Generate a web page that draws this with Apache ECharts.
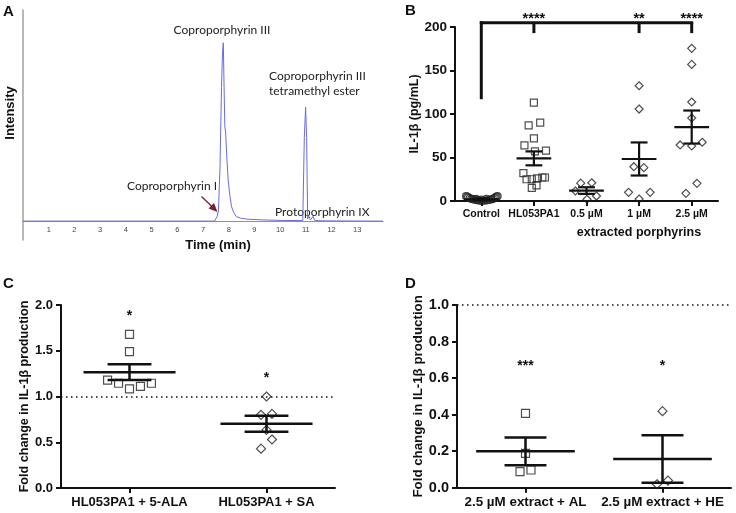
<!DOCTYPE html>
<html><head><meta charset="utf-8">
<script src="https://cdn.jsdelivr.net/npm/echarts@6/dist/echarts.min.js"></script>
<style>html,body{margin:0;padding:0;background:#fff}#c{width:736px;height:513px}</style>
</head><body><div id="c"></div>
<script>
// ---------- Panel A data (chromatogram) ----------
const chromTime = [0, 7.45, 7.55, 7.6, 7.66, 7.72, 7.76, 7.79, 7.82, 7.85, 7.88, 7.93, 7.98, 8.05, 8.11, 8.2, 8.3, 8.5, 8.8, 9.3, 10.0, 10.88, 10.94, 10.99, 11.03, 11.07, 11.12, 11.18, 11.23, 11.28, 11.34, 11.5, 12.2, 14];
const chromInt  = [0.3, 0.3, 3, 6, 30, 75, 95, 100, 75, 53, 50, 35, 23, 14, 8.4, 5, 2.8, 1.8, 1.3, 1.0, 0.7, 0.6, 47, 64, 47, 1.5, 3, 1, 1.2, 3, 0.8, 0.5, 0.4, 0.3];
const aTicks = [1,2,3,4,5,6,7,8,9,10,11,12,13];

// ---------- Panel B data ----------
const bCategories = ['Control', 'HL053PA1', '0.5 µM', '1 µM', '2.5 µM'];
const ctrlVals = [5.5, 5, 4.2, 3.2, 2.4, 1.8, 1.2, 0.8, 0.5, 0.3, 0.3, 0.5, 0.8, 1.2, 1.8, 2.4, 3.2, 4.2, 5, 5.5, 1.5, 2.5, 2.5];
const ctrlJit  = [-0.29, -0.27, -0.25, -0.22, -0.19, -0.15, -0.11, -0.07, -0.03, 0.0, 0.03, 0.07, 0.11, 0.15, 0.19, 0.22, 0.25, 0.27, 0.29, 0.31, 0, -0.1, 0.1];
const hlVals = [113, 87, 90, 72, 64, 57, 58, 32, 25, 25, 26, 27, 27, 18, 15];
const hlJit  = [0, -0.1, 0.12, 0, -0.18, 0.02, 0.23, -0.2, -0.14, -0.04, 0.06, 0.16, 0.21, 0.05, -0.04];
const p05Vals = [20.5, 21, 11.5, 2, 5.7];
const p05Jit  = [-0.11, 0.1, -0.21, 0.01, 0.19];
const p1Vals = [132.5, 105.7, 39.4, 38.3, 10, 2.3, 10];
const p1Jit  = [0, 0, -0.1, 0.09, -0.2, 0, 0.21];
const p25Vals = [175.5, 157, 113.8, 95.4, 64.4, 63.2, 67.5, 20.3, 8.8];
const p25Jit  = [0, 0, 0, 0, -0.22, 0, 0.2, 0.1, -0.11];
const bMeans = [2, 49, 12, 48.3, 85];
const bSems  = [0.6, 8, 3.8, 19, 19];
const bStars = ['', '****', '', '**', '****'];
const bStarY = [209, 209, 209, 209, 209];
const bracketBase = 117, bracketTop = 205, bracketDrop = 193;
const bracketTargets = [1, 3, 4];

// ---------- Panel C data ----------
const cCategories = ['HL053PA1 + 5-ALA', 'HL053PA1 + SA'];
const alaVals = [1.68, 1.49, 1.18, 1.145, 1.083, 1.11, 1.145];
const alaJit  = [0, 0, -0.16, -0.08, 0, 0.08, 0.16];
const saVals = [1.0, 0.8, 0.81, 0.635, 0.53, 0.43];
const saJit  = [0, -0.04, 0.04, 0, 0.04, -0.04];
const cMeans = [1.266, 0.703];
const cSems  = [0.087, 0.087];
const cStars = ['*', '*'];
const cStarY = [1.88, 1.196];

// ---------- Panel D data ----------
const dCategories = ['2.5 µM extract + AL', '2.5 µM extract + HE'];
const alVals = [0.407, 0.188, 0.088, 0.097];
const alJit  = [0, 0, -0.04, 0.04];
const heVals = [0.419, 0.019, 0.039];
const heJit  = [0, -0.04, 0.04];
const dMeans = [0.199, 0.157];
const dSems  = [0.076, 0.13];
const dStars = ['***', '*'];
const dStarY = [0.665, 0.665];

// ---------- build ----------
const FONT = 'Liberation Sans, Arial, sans-serif';
const pts = (vals, jit, cat) => vals.map((v, i) => [cat + jit[i], v]);

function errRender(meanHalf, capHalf, lw) {
  return function (params, api) {
    const x = api.value(0), m = api.value(1), s = api.value(2);
    const unit = api.size([1, 0])[0];
    const c = api.coord([x, m]), u = api.coord([x, m + s]), l = api.coord([x, m - s]);
    const st = { stroke: '#111', lineWidth: lw, fill: null };
    return { type: 'group', children: [
      { type: 'line', shape: { x1: c[0] - meanHalf * unit, y1: c[1], x2: c[0] + meanHalf * unit, y2: c[1] }, style: st },
      { type: 'line', shape: { x1: u[0], y1: u[1], x2: l[0], y2: l[1] }, style: st },
      { type: 'line', shape: { x1: u[0] - capHalf * unit, y1: u[1], x2: u[0] + capHalf * unit, y2: u[1] }, style: st },
      { type: 'line', shape: { x1: l[0] - capHalf * unit, y1: l[1], x2: l[0] + capHalf * unit, y2: l[1] }, style: st }
    ]};
  };
}
function starRender(labels, size) {
  return function (params, api) {
    const p = api.coord([api.value(0), api.value(1)]);
    return { type: 'text', x: p[0], y: p[1], style: { text: labels[params.dataIndex], fill: '#111', font: 'bold ' + size + 'px ' + FONT, textAlign: 'center', textVerticalAlign: 'middle' } };
  };
}

const blackAxis = { show: true, onZero: false, lineStyle: { color: '#111', width: 2 } };
const blackTick = { show: true, length: 5, lineStyle: { color: '#111', width: 2 } };
const symStyle = { color: 'rgba(255,255,255,0)', borderColor: '#222', borderWidth: 1.2 };

const option = {
  animation: false,
  backgroundColor: '#fff',
  textStyle: { fontFamily: FONT },
  grid: [
    { left: 23, top: 10, width: 360, height: 230 },
    { left: 455, top: 27, width: 263, height: 174 },
    { left: 61, top: 305, width: 274, height: 183 },
    { left: 457, top: 305, width: 274, height: 182.7 }
  ],
  xAxis: [
    { gridIndex: 0, type: 'value', min: 0, max: 14, interval: 1, offset: -18.3,
      axisLine: { onZero: false, lineStyle: { color: '#8a8ad0', width: 1 } }, axisTick: { show: false }, splitLine: { show: false },
      axisLabel: { fontSize: 7.5, color: '#444', margin: 4, formatter: v => aTicks.indexOf(v) >= 0 ? String(v) : '' },
      name: 'Time (min)', nameLocation: 'middle', nameGap: 17,
      nameTextStyle: { fontWeight: 'bold', fontSize: 13, color: '#111', padding: [0, 0, 0, 30] } },
    { gridIndex: 1, type: 'category', data: bCategories, axisLine: blackAxis,
      axisTick: Object.assign({ alignWithLabel: true }, blackTick),
      axisLabel: { interval: 0, fontSize: 10.5, fontWeight: 'bold', color: '#111', margin: 8 },
      name: 'extracted porphyrins', nameLocation: 'middle', nameGap: 25,
      nameTextStyle: { fontWeight: 'bold', fontSize: 12.5, color: '#111', padding: [0, 0, 0, 105] } },
    { gridIndex: 1, type: 'value', min: -0.5, max: 4.5, show: false, axisLine: { onZero: false } },
    { gridIndex: 2, type: 'category', data: cCategories, axisLine: blackAxis,
      axisTick: Object.assign({ alignWithLabel: true }, blackTick),
      axisLabel: { interval: 0, fontSize: 13, fontWeight: 'bold', color: '#111', margin: 8 } },
    { gridIndex: 2, type: 'value', min: -0.5, max: 1.5, show: false, axisLine: { onZero: false } },
    { gridIndex: 3, type: 'category', data: dCategories, axisLine: blackAxis,
      axisTick: Object.assign({ alignWithLabel: true }, blackTick),
      axisLabel: { interval: 0, fontSize: 13.4, fontWeight: 'bold', color: '#111', margin: 8 } },
    { gridIndex: 3, type: 'value', min: -0.5, max: 1.5, show: false, axisLine: { onZero: false } }
  ],
  yAxis: [
    { gridIndex: 0, type: 'value', min: -10.25, max: 118.3, axisLine: { show: true, onZero: false, lineStyle: { color: '#a0a0a0', width: 1.5 } },
      axisTick: { show: false }, axisLabel: { show: false }, splitLine: { show: false },
      name: 'Intensity', nameLocation: 'middle', nameGap: 6,
      nameTextStyle: { fontWeight: 'bold', fontSize: 13, color: '#111', padding: [0, 0, 0, 24] } },
    { gridIndex: 1, type: 'value', min: 0, max: 200, interval: 50, axisLine: blackAxis, axisTick: blackTick, splitLine: { show: false },
      axisLabel: { fontSize: 13.5, fontWeight: 'bold', color: '#111', margin: 8 },
      name: 'IL-1β (pg/mL)', nameLocation: 'middle', nameGap: 34,
      nameTextStyle: { fontWeight: 'bold', fontSize: 12.5, color: '#111' } },
    { gridIndex: 2, type: 'value', min: 0, max: 2, interval: 0.5, axisLine: blackAxis, axisTick: blackTick, splitLine: { show: false },
      axisLabel: { fontSize: 13, fontWeight: 'bold', color: '#111', margin: 8, formatter: v => v.toFixed(1) },
      name: 'Fold change in IL-1β production', nameLocation: 'middle', nameGap: 28,
      nameTextStyle: { fontWeight: 'bold', fontSize: 12.6, color: '#111' } },
    { gridIndex: 3, type: 'value', min: 0, max: 1, interval: 0.2, axisLine: blackAxis, axisTick: blackTick, splitLine: { show: false },
      axisLabel: { fontSize: 14.5, fontWeight: 'bold', color: '#111', margin: 8, formatter: v => v.toFixed(1) },
      name: 'Fold change in IL-1β production', nameLocation: 'middle', nameGap: 32,
      nameTextStyle: { fontWeight: 'bold', fontSize: 13.3, color: '#111' } }
  ],
  series: [
    // Panel A
    { type: 'line', xAxisIndex: 0, yAxisIndex: 0, data: chromTime.map((t, i) => [t, chromInt[i]]),
      symbol: 'none', lineStyle: { color: '#6b6be3', width: 1 }, z: 5 },
    // Panel B points
    { type: 'scatter', xAxisIndex: 2, yAxisIndex: 1, symbol: 'circle', symbolSize: 7, itemStyle: symStyle, data: pts(ctrlVals, ctrlJit, 0) },
    { type: 'scatter', xAxisIndex: 2, yAxisIndex: 1, symbol: 'rect', symbolSize: 7, itemStyle: symStyle, data: pts(hlVals, hlJit, 1) },
    { type: 'scatter', xAxisIndex: 2, yAxisIndex: 1, symbol: 'diamond', symbolSize: 8, itemStyle: symStyle, data: pts(p05Vals, p05Jit, 2) },
    { type: 'scatter', xAxisIndex: 2, yAxisIndex: 1, symbol: 'diamond', symbolSize: 8, itemStyle: symStyle, data: pts(p1Vals, p1Jit, 3) },
    { type: 'scatter', xAxisIndex: 2, yAxisIndex: 1, symbol: 'diamond', symbolSize: 8, itemStyle: symStyle, data: pts(p25Vals, p25Jit, 4) },
    { type: 'custom', xAxisIndex: 2, yAxisIndex: 1, clip: false, z: 4, renderItem: errRender(0.33, 0.16, 2.2),
      data: bMeans.map((m, i) => [i, m, bSems[i]]) },
    { type: 'custom', xAxisIndex: 2, yAxisIndex: 1, clip: false, z: 4, data: [[0, bracketTop]],
      renderItem: function (params, api) {
        const st = { stroke: '#111', lineWidth: 3, fill: null };
        const b = api.coord([0, bracketBase]), t0 = api.coord([0, bracketTop]);
        const tEnd = api.coord([bracketTargets[bracketTargets.length - 1], bracketTop]);
        const ch = [
          { type: 'line', shape: { x1: b[0], y1: b[1], x2: t0[0], y2: t0[1] - 1.5 }, style: st },
          { type: 'line', shape: { x1: t0[0] - 1.5, y1: t0[1], x2: tEnd[0] + 1.5, y2: tEnd[1] }, style: st }
        ];
        bracketTargets.forEach(k => {
          const a = api.coord([k, bracketTop]), d = api.coord([k, bracketDrop]);
          ch.push({ type: 'line', shape: { x1: a[0], y1: a[1], x2: d[0], y2: d[1] }, style: st });
        });
        return { type: 'group', children: ch };
      } },
    { type: 'custom', xAxisIndex: 2, yAxisIndex: 1, clip: false, z: 4, renderItem: starRender(bStars, 14.5),
      data: bStarY.map((y, i) => [i, y]) },
    // Panel C
    { type: 'scatter', xAxisIndex: 4, yAxisIndex: 2, symbol: 'rect', symbolSize: 8, itemStyle: symStyle, data: pts(alaVals, alaJit, 0),
      markLine: { silent: true, symbol: 'none', label: { show: false }, lineStyle: { type: [1.5, 3.5], color: '#111', width: 1.5 }, data: [{ yAxis: 1 }] } },
    { type: 'scatter', xAxisIndex: 4, yAxisIndex: 2, symbol: 'diamond', symbolSize: 9, itemStyle: symStyle, data: pts(saVals, saJit, 1) },
    { type: 'custom', xAxisIndex: 4, yAxisIndex: 2, clip: false, z: 4, renderItem: errRender(0.336, 0.16, 2.5),
      data: cMeans.map((m, i) => [i, m, cSems[i]]) },
    { type: 'custom', xAxisIndex: 4, yAxisIndex: 2, clip: false, z: 4, renderItem: starRender(cStars, 14),
      data: cStarY.map((y, i) => [i, y]) },
    // Panel D
    { type: 'scatter', xAxisIndex: 6, yAxisIndex: 3, symbol: 'rect', symbolSize: 8, itemStyle: symStyle, data: pts(alVals, alJit, 0),
      markLine: { silent: true, symbol: 'none', label: { show: false }, lineStyle: { type: [1.5, 3.5], color: '#111', width: 1.5 }, data: [{ yAxis: 1 }] } },
    { type: 'scatter', xAxisIndex: 6, yAxisIndex: 3, symbol: 'diamond', symbolSize: 9, itemStyle: symStyle, data: pts(heVals, heJit, 1) },
    { type: 'custom', xAxisIndex: 6, yAxisIndex: 3, clip: false, z: 4, renderItem: errRender(0.36, 0.153, 2.5),
      data: dMeans.map((m, i) => [i, m, dSems[i]]) },
    { type: 'custom', xAxisIndex: 6, yAxisIndex: 3, clip: false, z: 4, renderItem: starRender(dStars, 14),
      data: dStarY.map((y, i) => [i, y]) }
  ],
  graphic: [
    { type: 'text', left: 3, top: 4, style: { text: 'A', font: 'bold 15px ' + FONT, fill: '#111' } },
    { type: 'text', left: 405, top: 3, style: { text: 'B', font: 'bold 15px ' + FONT, fill: '#111' } },
    { type: 'text', left: 3, top: 276, style: { text: 'C', font: 'bold 15px ' + FONT, fill: '#111' } },
    { type: 'text', left: 405, top: 276, style: { text: 'D', font: 'bold 15px ' + FONT, fill: '#111' } },
    { type: 'text', x: 222, y: 30, style: { text: 'Coproporphyrin III', font: '12px Lato, ' + FONT, fill: '#222', textAlign: 'center', textVerticalAlign: 'middle' } },
    { type: 'text', x: 269, y: 76, style: { text: 'Coproporphyrin III', font: '12px Lato, ' + FONT, fill: '#222', textAlign: 'left', textVerticalAlign: 'middle' } },
    { type: 'text', x: 269, y: 91, style: { text: 'tetramethyl ester', font: '12px Lato, ' + FONT, fill: '#222', textAlign: 'left', textVerticalAlign: 'middle' } },
    { type: 'text', x: 127, y: 186, style: { text: 'Coproporphyrin I', font: '12px Lato, ' + FONT, fill: '#222', textAlign: 'left', textVerticalAlign: 'middle' } },
    { type: 'text', x: 275, y: 212, style: { text: 'Protoporphyrin IX', font: '12px Lato, ' + FONT, fill: '#222', textAlign: 'left', textVerticalAlign: 'middle' } },
    { type: 'line', shape: { x1: 201.5, y1: 196.5, x2: 213, y2: 207.5 }, style: { stroke: '#7b1f2e', lineWidth: 1.3 } },
    { type: 'polygon', shape: { points: [[217.5, 212], [208.5, 208.5], [214, 203]] }, style: { fill: '#7b1f2e' } }
  ]
};
echarts.init(document.getElementById('c'), null, { renderer: 'canvas' }).setOption(option);
</script></body></html>
